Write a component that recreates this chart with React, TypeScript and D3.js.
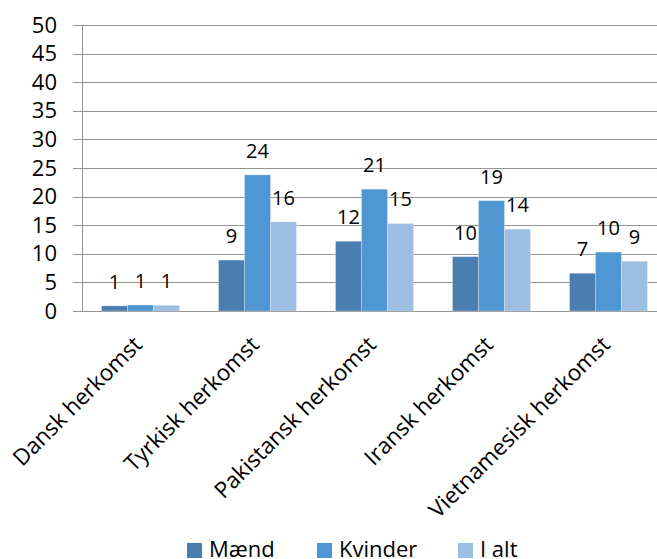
import { useEffect, useRef } from 'react';
import * as d3 from 'd3';

const categories = [
    'Dansk herkomst',
    'Tyrkisk herkomst',
    'Pakistansk herkomst',
    'Iransk herkomst',
    'Vietnamesisk herkomst',
];
const seriesNames = ['Mænd', 'Kvinder', 'I alt'];
const maend = [0.9, 8.9, 12.2, 9.5, 6.6];
const kvinder = [1.05, 23.8, 21.3, 19.3, 10.3];
const iAlt = [1.0, 15.6, 15.3, 14.3, 8.7];
const yTicks = [0, 5, 10, 15, 20, 25, 30, 35, 40, 45, 50];
const colors = ['#4a7db0', '#4f97d3', '#9cbee1'];

const W = 657;
const H = 559;
const FONT = '"Open Sans", sans-serif';

export default function App() {
    const svgRef = useRef<SVGSVGElement>(null);

    useEffect(() => {
        if (!svgRef.current) return;
        const svg = d3.select(svgRef.current);
        svg.selectAll('*').remove();

        const series = [maend, kvinder, iAlt];

        const x = d3
            .scaleBand<string>()
            .domain(categories)
            .range([82, 667])
            .paddingInner(1 / 3)
            .paddingOuter(1 / 6);
        const xs = d3
            .scaleBand<string>()
            .domain(seriesNames)
            .range([0, x.bandwidth()]);
        const y = d3.scaleLinear().domain([0, 50]).range([311, 25]);

        // gridlines + ticks
        const grid = svg.append('g');
        yTicks.forEach((t) => {
            grid
                .append('line')
                .attr('x1', 73)
                .attr('x2', W)
                .attr('y1', Math.round(y(t)) + 0.5)
                .attr('y2', Math.round(y(t)) + 0.5)
                .attr('stroke', '#959595')
                .attr('stroke-width', 1);
            grid
                .append('text')
                .attr('x', 57)
                .attr('y', y(t) + 7.5)
                .attr('text-anchor', 'end')
                .attr('font-family', FONT)
                .attr('font-size', 22)
                .attr('fill', '#000')
                .text(t);
        });

        // y axis line
        svg
            .append('line')
            .attr('x1', 82.5)
            .attr('x2', 82.5)
            .attr('y1', y(50))
            .attr('y2', y(0))
            .attr('stroke', '#959595');

        // bars
        series.forEach((vals, si) => {
            const g = svg.append('g');
            vals.forEach((v, ci) => {
                const bx = (x(categories[ci]) ?? 0) + (xs(seriesNames[si]) ?? 0);
                g.append('rect')
                    .attr('x', bx)
                    .attr('y', y(v))
                    .attr('width', xs.bandwidth())
                    .attr('height', y(0) - y(v))
                    .attr('fill', colors[si])
                    .attr('stroke', '#ffffff')
                    .attr('stroke-opacity', 0.35)
                    .attr('stroke-width', 0.8);
                g.append('text')
                    .attr('x', bx + xs.bandwidth() / 2)
                    .attr('y', y(v) - 17)
                    .attr('text-anchor', 'middle')
                    .attr('font-family', FONT)
                    .attr('font-size', 20)
                    .attr('fill', '#000')
                    .text(Math.round(v));
            });
        });

        // category labels
        categories.forEach((c) => {
            const cx = (x(c) ?? 0) + x.bandwidth() / 2 + 3;
            const cy = 346;
            svg
                .append('text')
                .attr('transform', `translate(${cx},${cy}) rotate(-45)`)
                .attr('text-anchor', 'end')
                .attr('font-family', FONT)
                .attr('font-size', 22.5)
                .attr('fill', '#000')
                .text(c);
        });

        // legend
        const legendX = [187, 317, 458];
        seriesNames.forEach((name, i) => {
            svg
                .append('rect')
                .attr('x', legendX[i])
                .attr('y', 543)
                .attr('width', 15)
                .attr('height', 15)
                .attr('fill', colors[i]);
            svg
                .append('text')
                .attr('x', legendX[i] + 22)
                .attr('y', 557)
                .attr('font-family', FONT)
                .attr('font-size', 22)
                .attr('fill', '#000')
                .text(name);
        });
    }, []);

    return (
        <svg
            ref={svgRef}
            width={W}
            height={H}
            style={{ position: 'absolute', left: 0, top: 0, background: '#fff' }}
        ></svg>
    );
}
